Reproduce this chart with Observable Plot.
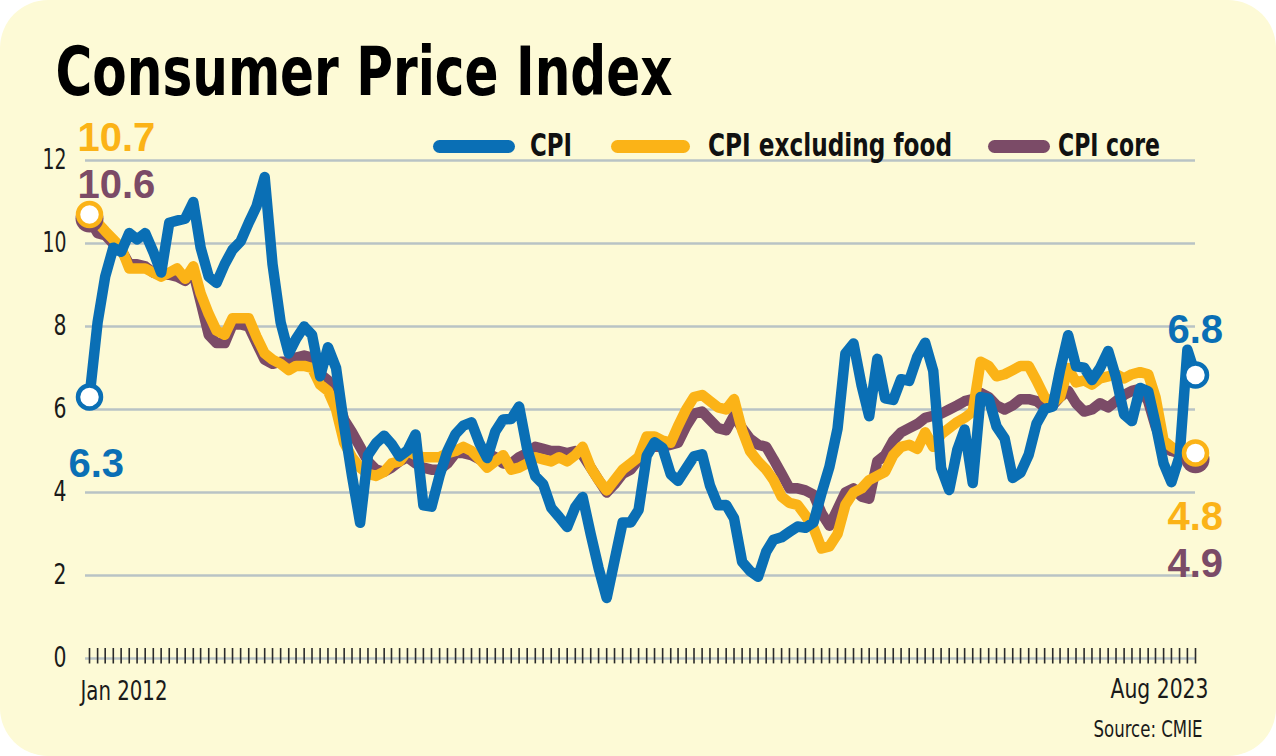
<!DOCTYPE html>
<html><head><meta charset="utf-8">
<script src="https://cdn.jsdelivr.net/npm/d3@7"></script>
<script src="https://cdn.jsdelivr.net/npm/@observablehq/plot@0.6"></script>
<style>
html,body{margin:0;padding:0;background:#ffffff;}
#card{position:relative;width:1276px;height:756px;background:#fdfad6;border-radius:48px;overflow:hidden;font-family:"Liberation Sans Narrow","DejaVu Sans Condensed","DejaVu Sans",sans-serif;}
#card svg{position:absolute;left:0;top:0;}
.sw{position:absolute;height:13px;border-radius:7px;top:140px;}
.lt{position:absolute;top:129px;font-size:32px;line-height:32px;font-weight:bold;color:#111;white-space:nowrap;transform-origin:0 50%;}
</style></head><body>
<div id="card"></div>
<script>
const startMonth = "2012-01-01";
const seriesNames = ["CPI", "CPI excluding food", "CPI core"];
const seriesColors = ["#0a6fb5", "#fbb317", "#7b4b67"];
const yTicks = [0, 2, 4, 6, 8, 10, 12];
const xLabels = ["Jan 2012", "Aug 2023"];
const startLabels = ["6.3", "10.7", "10.6"];
const endLabels = ["6.8", "4.8", "4.9"];
const source = "Source: CMIE";
const title = "Consumer Price Index";

const cpi = [6.3,8.1,9.2,9.9,9.8,10.25,10.1,10.25,9.8,9.3,10.5,10.55,
10.6,11.0,9.9,9.2,9.05,9.5,9.85,10.05,10.5,10.9,11.6,9.5,
8.1,7.35,7.7,8.0,7.8,6.8,7.5,7.0,5.6,4.4,3.27,4.9,
5.19,5.37,5.17,4.87,5.01,5.40,3.69,3.66,4.41,5.00,5.41,5.61,
5.69,5.18,4.83,5.47,5.76,5.77,6.07,5.05,4.39,4.20,3.63,3.41,
3.17,3.65,3.89,2.99,2.18,1.46,2.36,3.28,3.28,3.58,4.88,5.21,
5.07,4.44,4.28,4.58,4.87,4.92,4.17,3.69,3.70,3.38,2.33,2.11,
1.97,2.57,2.86,2.92,3.05,3.18,3.15,3.28,3.99,4.62,5.54,7.35,
7.59,6.58,5.84,7.22,6.27,6.23,6.73,6.69,7.27,7.61,6.93,4.59,
4.06,5.03,5.52,4.23,6.30,6.26,5.59,5.30,4.35,4.48,4.91,5.66,
6.01,6.07,6.95,7.79,7.04,7.01,6.71,7.00,7.41,6.77,5.88,5.72,
6.52,6.44,5.66,4.70,4.25,4.87,7.44,6.83];

const exFood = [10.7,10.5,10.3,10.1,9.9,9.4,9.4,9.4,9.3,9.2,9.3,9.4,
9.15,9.45,8.8,8.3,7.9,7.8,8.2,8.2,8.2,7.75,7.35,7.2,
7.1,6.95,7.05,7.05,7.0,6.6,6.45,6.0,5.2,4.85,4.6,4.45,
4.4,4.5,4.7,4.75,5.0,4.9,4.85,4.85,4.85,4.95,5.0,5.1,
5.0,4.8,4.6,4.75,4.9,4.55,4.6,4.7,4.85,4.8,4.75,4.85,
4.75,4.9,5.1,4.6,4.3,4.05,4.3,4.55,4.7,4.85,5.35,5.35,
5.25,5.2,5.6,6.0,6.3,6.35,6.2,6.05,6.0,6.25,5.5,5.0,
4.75,4.55,4.3,3.9,3.75,3.7,3.45,3.15,2.65,2.7,3.0,3.7,
4.0,4.1,4.3,4.4,4.5,4.9,5.1,5.15,5.05,5.45,5.1,5.4,
5.55,5.7,5.8,5.95,7.15,7.05,6.8,6.85,6.95,7.05,7.05,6.7,
6.3,6.15,6.3,7.0,6.65,6.7,6.6,6.75,6.8,6.85,6.75,6.85,
6.9,6.85,6.3,5.25,5.1,5.0,4.95,4.95];

const core = [10.6,10.25,10.2,10.0,9.85,9.5,9.5,9.45,9.3,9.25,9.25,9.2,
9.1,9.3,8.6,7.8,7.6,7.6,8.05,8.05,8.0,7.6,7.2,7.1,
7.15,7.15,7.25,7.3,7.25,6.85,6.7,6.4,5.75,5.45,5.1,4.75,
4.55,4.5,4.6,4.75,4.85,4.7,4.6,4.55,4.55,4.7,4.95,4.95,
4.9,4.8,4.95,4.85,4.7,4.7,4.85,4.95,5.1,5.05,5.0,5.0,
4.95,5.0,4.9,4.6,4.3,4.0,4.2,4.45,4.55,4.8,5.1,5.1,
5.1,5.15,5.2,5.6,5.9,5.95,5.75,5.55,5.5,5.85,5.55,5.3,
5.15,5.1,4.8,4.45,4.1,4.1,4.05,3.95,3.5,3.2,3.6,4.0,
4.1,3.9,3.85,4.75,4.9,5.25,5.45,5.55,5.65,5.8,5.85,5.9,
6.0,6.1,6.2,6.25,6.4,6.3,6.1,6.0,6.1,6.25,6.25,6.2,
6.05,6.1,6.3,6.45,6.15,5.95,6.0,6.15,6.05,6.2,6.35,6.45,
6.5,6.2,5.6,5.1,5.0,4.95,4.85,4.8];

const months = cpi.map((_, i) => d3.utcMonth.offset(new Date(startMonth), i));
const rows = months.map((date, i) => ({date, cpi: cpi[i], exFood: exFood[i], core: core[i]}));
const first = rows[0], last = rows[rows.length - 1];
const [BLUE, ORANGE, PURPLE] = seriesColors;

const numFont = "'Liberation Sans', Arial, sans-serif";
const lineOpts = {x: "date", strokeWidth: 10.5, strokeLinejoin: "round", strokeLinecap: "round"};
const label = (row, key, txt, color, dx, dy) =>
  Plot.text([row], {x: "date", y: key, text: () => txt, fill: color, dx, dy,
    textAnchor: "start", lineAnchor: "bottom", fontSize: 40, fontWeight: "bold", fontFamily: numFont});

const chart = Plot.plot({
  width: 1276, height: 756,
  marginLeft: 89, marginRight: 81, marginTop: 160, marginBottom: 98,
  x: {type: "utc", domain: [months[0], months[months.length - 1]], axis: null},
  y: {domain: [0, 12], axis: null},
  style: {background: "transparent", fontFamily: "'Liberation Sans Narrow','DejaVu Sans Condensed','DejaVu Sans',sans-serif", color: "#1a1a1a", overflow: "visible"},
  marks: [
    Plot.ruleY(yTicks, {stroke: "#b9c3c5", strokeWidth: 2.5, insetLeft: -4}),
    Plot.ruleX(months, {x: d => d, y1: -0.13, y2: 0.24, stroke: "#2a2a2a", strokeWidth: 1.6}),
    Plot.axisY({ticks: yTicks, tickSize: 0, tickPadding: 23, fontSize: 28, label: null, fill: "#1a1a1a"}),
    Plot.line(rows, {...lineOpts, y: "core", stroke: PURPLE}),
    Plot.line(rows, {...lineOpts, y: "exFood", stroke: ORANGE}),
    Plot.line(rows, {...lineOpts, y: "cpi", stroke: BLUE}),
    Plot.dot([first, last], {x: "date", y: "core", r: 14, fill: PURPLE}),
    Plot.dot([first, last], {x: "date", y: "exFood", r: 11.5, fill: "white", stroke: ORANGE, strokeWidth: 4.5}),
    Plot.dot([first, last], {x: "date", y: "cpi", r: 11.5, fill: "white", stroke: BLUE, strokeWidth: 4.5}),
    label(first, "exFood", startLabels[1], ORANGE, -12, -63),
    label(first, "core", startLabels[2], PURPLE, -12, -21),
    label(first, "cpi", startLabels[0], BLUE, -21, 80),
    label(last, "cpi", endLabels[0], BLUE, -28, -32),
    label(last, "exFood", endLabels[1], ORANGE, -28, 77),
    label(last, "core", endLabels[2], PURPLE, -28, 118),
    Plot.text([first], {x: "date", y: () => 0, text: () => xLabels[0], dx: -9, dy: 41, textAnchor: "start", lineAnchor: "bottom", fontSize: 27, fill: "#1a1a1a"}),
    Plot.text([last], {x: "date", y: () => 0, text: () => xLabels[1], dx: 13, dy: 39, textAnchor: "end", lineAnchor: "bottom", fontSize: 27, fill: "#1a1a1a"}),
    Plot.text([source], {text: d => d, frameAnchor: "bottom-right", dx: 7, dy: 78, textAnchor: "end", lineAnchor: "bottom", fontSize: 23, fill: "#1a1a1a"}),
    Plot.text([title], {text: d => d, frameAnchor: "top-left", dx: -34, dy: -66, textAnchor: "start", lineAnchor: "bottom", fontSize: 68, fontWeight: "bold", fill: "#000"})
  ]
});

const card = document.getElementById("card");
card.appendChild(chart);

// fit condensed text widths to the reference lettering
const textWidths = new Map([
  [title, 617], [xLabels[0], 87], [xLabels[1], 98], [source, 109],
  ["12", 24], ["10", 24], ["8", 13], ["6", 13], ["4", 13], ["2", 13], ["0", 13]
]);
chart.querySelectorAll("text").forEach(el => {
  const w = textWidths.get(el.textContent);
  if (w) { el.setAttribute("textLength", w); el.setAttribute("lengthAdjust", "spacingAndGlyphs"); }
});

// legend
const legendLayout = [
  {sw: 433, w: 82, t: 530, tw: 42},
  {sw: 611, w: 79, t: 708, tw: 244},
  {sw: 988, w: 62, t: 1058, tw: 102}
];
seriesNames.forEach((name, i) => {
  const s = document.createElement("div");
  s.className = "sw";
  s.style.left = legendLayout[i].sw + "px";
  s.style.width = legendLayout[i].w + "px";
  s.style.background = seriesColors[i];
  card.appendChild(s);
  const t = document.createElement("div");
  t.className = "lt";
  t.style.left = legendLayout[i].t + "px";
  t.textContent = name;
  card.appendChild(t);
  const actual = t.getBoundingClientRect().width;
  if (actual > 0) t.style.transform = `scaleX(${legendLayout[i].tw / actual})`;
});
</script>
</body></html>
